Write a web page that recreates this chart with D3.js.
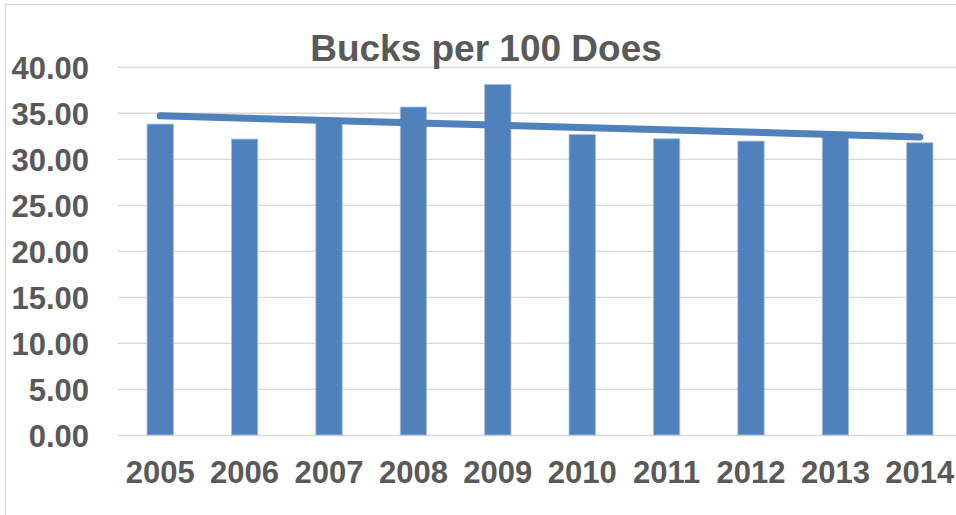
<!DOCTYPE html>
<html>
<head>
<meta charset="utf-8">
<script src="https://cdn.jsdelivr.net/npm/d3@7"></script>
<style>
  html, body { margin: 0; padding: 0; background: #ffffff; overflow: hidden; }
  svg { display: block; }
  text { font-family: "Liberation Sans", Arial, sans-serif; font-weight: bold; fill: #595959; }
</style>
</head>
<body>
<svg id="chart" width="956" height="515"></svg>
<script>
// Bucks per 100 does, by year
const years = ["2005", "2006", "2007", "2008", "2009", "2010", "2011", "2012", "2013", "2014"];
const bucksPer100 = [33.77, 32.14, 34.35, 35.62, 38.08, 32.64, 32.17, 31.92, 32.75, 31.74];
const yTicks = [0, 5, 10, 15, 20, 25, 30, 35, 40];
const chartTitle = "Bucks per 100 Does";

const svg = d3.select("#chart");
const W = 956, H = 515;

svg.append("rect").attr("width", W).attr("height", H).attr("fill", "#ffffff");

// chart frame (runs off the right and bottom edges)
svg.append("rect")
  .attr("x", 5.5).attr("y", 4.5)
  .attr("width", 980).attr("height", 540)
  .attr("fill", "none").attr("stroke", "#d9d9d9").attr("stroke-width", 1.2);

const plot = { left: 118, right: 962, top: 66.7, bottom: 435 };

const x = d3.scaleBand()
  .domain(years)
  .range([plot.left, plot.right])
  .paddingInner(0.688)
  .paddingOuter(0.344);

const y = d3.scaleLinear()
  .domain([0, 40])
  .range([plot.bottom, plot.top]);

// horizontal gridlines + value labels
const yAxis = d3.axisLeft(y)
  .tickValues(yTicks)
  .tickSize(-(plot.right - plot.left))
  .tickPadding(29)
  .tickFormat(d3.format(".2f"));

const gy = svg.append("g")
  .attr("transform", `translate(${plot.left},0)`)
  .call(yAxis);
gy.select(".domain").remove();
gy.selectAll(".tick line").attr("stroke", "#d9d9d9").attr("stroke-width", 1.3);
gy.selectAll(".tick text")
  .attr("font-size", 31)
  .attr("dy", "0.37em")
  .attr("fill", "#595959")
  .style("font-family", "'Liberation Sans', Arial, sans-serif")
  .style("font-weight", "bold");

// bars
svg.append("g").selectAll("rect")
  .data(years.map((yr, i) => ({ yr, v: bucksPer100[i] })))
  .join("rect")
  .attr("x", d => x(d.yr))
  .attr("y", d => y(d.v))
  .attr("width", x.bandwidth())
  .attr("height", d => y(0) - y(d.v))
  .attr("fill", "#4f81bd")
  .attr("stroke", "#a9c0df")
  .attr("stroke-width", 0.8);

// category labels
const xAxis = d3.axisBottom(x).tickSize(0).tickPadding(26);
const gx = svg.append("g")
  .attr("transform", `translate(0,${plot.bottom})`)
  .call(xAxis);
gx.select(".domain").remove();
gx.selectAll(".tick text")
  .attr("font-size", 31)
  .attr("fill", "#595959")
  .style("font-family", "'Liberation Sans', Arial, sans-serif")
  .style("font-weight", "bold");

// linear trendline (least squares over year index)
const n = bucksPer100.length;
const xs = d3.range(n);
const mx = d3.mean(xs), my = d3.mean(bucksPer100);
const slope = d3.sum(xs, i => (i - mx) * (bucksPer100[i] - my)) / d3.sum(xs, i => (i - mx) ** 2);
const intercept = my - slope * mx;
const trend = [0, n - 1].map(i => [x(years[i]) + x.bandwidth() / 2, y(intercept + slope * i)]);

svg.append("path")
  .attr("d", d3.line()(trend))
  .attr("fill", "none")
  .attr("stroke", "#4f81bd")
  .attr("stroke-width", 7)
  .attr("stroke-linecap", "round");

// title
svg.append("text")
  .attr("x", 486).attr("y", 61)
  .attr("text-anchor", "middle")
  .attr("font-size", 37)
  .text(chartTitle);
</script>
</body>
</html>
